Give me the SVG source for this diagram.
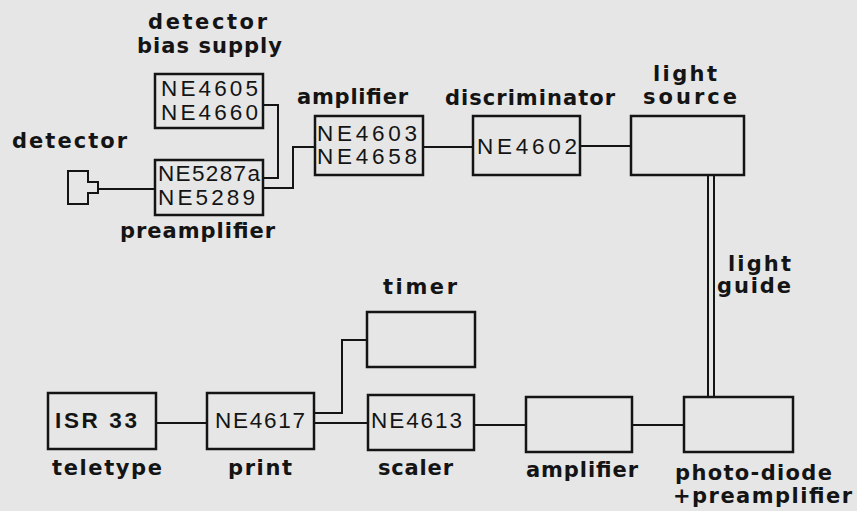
<svg xmlns="http://www.w3.org/2000/svg" width="857" height="511" viewBox="0 0 857 511">
<style>
.bx{fill:none;stroke:#141414;stroke-width:2.5}
.ln{fill:none;stroke:#141414;stroke-width:2}
.lb{font-family:"DejaVu Sans","Liberation Sans",sans-serif;font-size:21px;fill:#141414;font-weight:bold}
.bt{font-family:"Liberation Sans","DejaVu Sans",sans-serif;font-size:22.5px;fill:#141414}
</style>
<rect width="857" height="511" fill="#e6e6e6"/>
<g id="connectors">
<path class="ln" d="M98 189 H155"/>
<path class="ln" d="M263 105 H278 V178 H263"/>
<path class="ln" d="M263 188 H293 V147 H315"/>
<path class="ln" d="M423 147 H473"/>
<path class="ln" d="M580 146 H631"/>
<path class="ln" d="M708 175 V397 M714 175 V397"/>
<path class="ln" d="M156 423 H207"/>
<path class="ln" d="M314 413 H342 V340 H367"/>
<path class="ln" d="M314 423 H368"/>
<path class="ln" d="M474 425 H526"/>
<path class="ln" d="M632 425 H684"/>
</g>
<g id="detector">
<path class="ln" d="M68 171 H88 V182 H98 V193 H88 V204 H68 Z"/>
<text class="lb" x="12" y="148" textLength="115" lengthAdjust="spacing">detector</text>
</g>
<g id="bias-supply">
<rect class="bx" x="155" y="74" width="108" height="54"/>
<text class="bt" x="161" y="96" textLength="97" lengthAdjust="spacing" font-size="20.5">NE4605</text>
<text class="bt" x="161" y="120" textLength="97" lengthAdjust="spacing" font-size="20.5">NE4660</text>
<text class="lb" x="148" y="29" textLength="119" lengthAdjust="spacing">detector</text>
<text class="lb" x="137" y="53" textLength="145" lengthAdjust="spacing">bias supply</text>
</g>
<g id="preamplifier">
<rect class="bx" x="155" y="160" width="108" height="55"/>
<text class="bt" x="158" y="181" textLength="102" lengthAdjust="spacing">NE5287a</text>
<text class="bt" x="158" y="205" textLength="97" lengthAdjust="spacing">NE5289</text>
<text class="lb" x="120" y="238" textLength="155" lengthAdjust="spacing">preamplifier</text>
</g>
<g id="amplifier1">
<rect class="bx" x="315" y="116" width="108" height="59"/>
<text class="bt" x="317" y="141" textLength="100" lengthAdjust="spacing">NE4603</text>
<text class="bt" x="317" y="164" textLength="100" lengthAdjust="spacing">NE4658</text>
<text class="lb" x="297" y="104" textLength="111" lengthAdjust="spacing">amplifier</text>
</g>
<g id="discriminator">
<rect class="bx" x="473" y="116" width="107" height="59"/>
<text class="bt" x="477" y="154" textLength="100" lengthAdjust="spacing">NE4602</text>
<text class="lb" x="445" y="105" textLength="170" lengthAdjust="spacing">discriminator</text>
</g>
<g id="light-source">
<rect class="bx" x="631" y="116" width="113" height="59"/>
<text class="lb" x="653" y="81" textLength="64" lengthAdjust="spacing" font-size="19">light</text>
<text class="lb" x="643" y="104" textLength="94" lengthAdjust="spacing">source</text>
</g>
<g id="light-guide">
<text class="lb" x="728" y="271" textLength="63" lengthAdjust="spacing">light</text>
<text class="lb" x="717" y="293" textLength="74" lengthAdjust="spacing">guide</text>
</g>
<g id="timer">
<rect class="bx" x="367" y="312" width="108" height="55"/>
<text class="lb" x="383" y="294" textLength="74" lengthAdjust="spacing">timer</text>
</g>
<g id="teletype">
<rect class="bx" x="48" y="393" width="108" height="56"/>
<text class="bt" x="55" y="428" textLength="82" lengthAdjust="spacing" font-weight="bold">ISR 33</text>
<text class="lb" x="52" y="475" textLength="110" lengthAdjust="spacing">teletype</text>
</g>
<g id="print">
<rect class="bx" x="207" y="393" width="107" height="56"/>
<text class="bt" x="215" y="428" textLength="90" lengthAdjust="spacing">NE4617</text>
<text class="lb" x="228" y="475" textLength="64" lengthAdjust="spacing">print</text>
</g>
<g id="scaler">
<rect class="bx" x="368" y="395" width="106" height="55"/>
<text class="bt" x="371" y="428" textLength="91" lengthAdjust="spacing">NE4613</text>
<text class="lb" x="378" y="475" textLength="75" lengthAdjust="spacing">scaler</text>
</g>
<g id="amplifier2">
<rect class="bx" x="526" y="397" width="106" height="55"/>
<text class="lb" x="526" y="477" textLength="112" lengthAdjust="spacing">amplifier</text>
</g>
<g id="photo-diode">
<rect class="bx" x="684" y="397" width="109" height="55"/>
<text class="lb" x="675" y="480" textLength="157" lengthAdjust="spacing">photo-diode</text>
<text class="lb" x="673" y="503" textLength="179" lengthAdjust="spacing">+preamplifier</text>
</g>
</svg>
